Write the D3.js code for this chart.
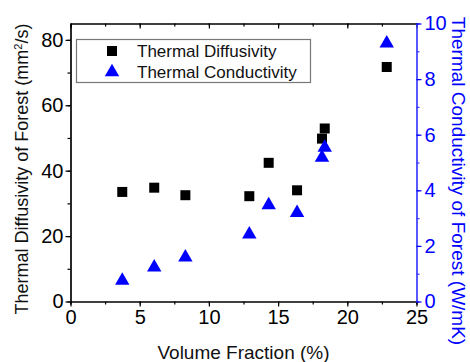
<!DOCTYPE html>
<html>
<head>
<meta charset="utf-8">
<script src="https://cdn.jsdelivr.net/npm/d3@7"></script>
<style>
  body { margin: 0; background: #fff; }
  text { font-family: Arial, "Liberation Sans", sans-serif; }
</style>
</head>
<body>
<div id="chart"></div>
<script>
// ---------- data
const volumeFraction = [3.74, 6.05, 8.3, 12.92, 14.32, 16.37, 18.17, 18.37, 22.85]
const diffusivity = [33.5, 34.8, 32.5, 32.2, 42.4, 34.0, 49.8, 52.9, 71.7]
const conductivity = [0.75, 1.23, 1.59, 2.42, 3.47, 3.19, 5.18, 5.54, 9.29]
const xTicks = [0, 5, 10, 15, 20, 25]
const yLeftTicks = [0, 20, 40, 60, 80]
const yRightTicks = [0, 2, 4, 6, 8, 10]
const legendLabels = ["Thermal Diffusivity", "Thermal Conductivity"]

const blue = "#0000ff"
const axisBlue = "#3a3aff"

// ---------- dimensions
const dims = {
    width: 470,
    height: 362,
    margin: { top: 23.5, right: 53.5, bottom: 60.5, left: 70.5 }
}
dims.boundedWidth = dims.width - dims.margin.left - dims.margin.right
dims.boundedHeight = dims.height - dims.margin.top - dims.margin.bottom

const svg = d3.select("#chart").append("svg")
    .attr("width", dims.width)
    .attr("height", dims.height)

const bounds = svg.append("g")
    .attr("transform", `translate(${dims.margin.left},${dims.margin.top})`)

// ---------- scales
const xScale = d3.scaleLinear().domain([0, 25]).range([0, dims.boundedWidth])
const yLeft = d3.scaleLinear().domain([0, 85]).range([dims.boundedHeight, 0])
const yRight = d3.scaleLinear().domain([0, 10]).range([dims.boundedHeight, 0])

// ---------- axes
const xMinor = d3.range(0, 25.01, 2.5)
const yLeftMinor = d3.range(0, 85, 10)
const yRightMinor = d3.range(0, 10.01, 1)

function styleAxis(g, color, fontSize) {
    g.select(".domain").attr("stroke", color).attr("stroke-width", 1.2)
    g.selectAll(".tick line").attr("stroke", color).attr("stroke-width", 1.2)
    g.selectAll(".tick text")
        .attr("fill", color)
        .style("font-size", fontSize + "px")
}

// minor ticks (drawn first, no labels)
bounds.append("g")
    .attr("transform", `translate(0,${dims.boundedHeight})`)
    .call(d3.axisBottom(xScale).tickValues(xMinor).tickSize(3).tickFormat(""))
    .call(g => styleAxis(g, "#000", 20))
bounds.append("g")
    .call(d3.axisBottom(xScale).tickValues(xMinor).tickSize(3).tickFormat(""))
    .call(g => styleAxis(g, "#000", 20))
bounds.append("g")
    .call(d3.axisLeft(yLeft).tickValues(yLeftMinor).tickSize(3).tickFormat("").tickSizeOuter(0))
    .call(g => styleAxis(g, "#000", 20))

// bottom axis
const xAxis = bounds.append("g")
    .attr("transform", `translate(0,${dims.boundedHeight})`)
    .call(d3.axisBottom(xScale).tickValues(xTicks).tickSize(5).tickSizeOuter(0).tickPadding(3))
    .call(g => styleAxis(g, "#000", 20))

// top axis (ticks pointing inward)
bounds.append("g")
    .call(d3.axisBottom(xScale).tickValues(xTicks).tickSize(5).tickSizeOuter(0).tickFormat(""))
    .call(g => styleAxis(g, "#000", 20))

// left axis
bounds.append("g")
    .call(d3.axisLeft(yLeft).tickValues(yLeftTicks).tickSize(5).tickSizeOuter(0).tickPadding(2))
    .call(g => styleAxis(g, "#000", 20))

// right axis in blue
const rightAxis = bounds.append("g")
    .attr("transform", `translate(${dims.boundedWidth},0)`)
rightAxis.append("g")
    .call(d3.axisRight(yRight).tickValues(yRightMinor).tickSize(3).tickFormat("").tickSizeOuter(0))
    .call(g => styleAxis(g, axisBlue, 20))
rightAxis.append("g")
    .call(d3.axisRight(yRight).tickValues(yRightTicks).tickSize(5).tickSizeOuter(0).tickPadding(3))
    .call(g => styleAxis(g, blue, 20))
rightAxis.selectAll(".domain").attr("stroke", axisBlue)

// ---------- axis titles
svg.append("text")
    .attr("x", dims.margin.left + dims.boundedWidth / 2)
    .attr("y", 359)
    .attr("text-anchor", "middle")
    .style("font-size", "19px")
    .attr("fill", "#111")
    .text("Volume Fraction (%)")

const leftTitle = svg.append("text")
    .attr("transform", `translate(28,169) rotate(-90)`)
    .attr("text-anchor", "middle")
    .style("font-size", "18px")
    .attr("fill", "#111")
leftTitle.append("tspan").text("Thermal Diffusivity of Forest (mm")
leftTitle.append("tspan").attr("baseline-shift", "super").style("font-size", "11px").text("2")
leftTitle.append("tspan").text("/s)")

svg.append("text")
    .attr("transform", `translate(452,181) rotate(90)`)
    .attr("text-anchor", "middle")
    .style("font-size", "19px")
    .attr("fill", blue)
    .text("Thermal Conductivity of Forest (W/mK)")

// ---------- data points
const points = volumeFraction.map((v, i) => ({ x: v, d: diffusivity[i], c: conductivity[i] }))

const squareSym = d3.symbol().type(d3.symbolSquare).size(100)
const triSym = d3.symbol().type(d3.symbolTriangle).size(90)

bounds.append("g").selectAll("path")
    .data(points)
    .join("path")
    .attr("d", squareSym)
    .attr("transform", d => `translate(${xScale(d.x)},${yLeft(d.d)})`)
    .attr("fill", "#000")

bounds.append("g").selectAll("path")
    .data(points)
    .join("path")
    .attr("d", triSym)
    .attr("transform", d => `translate(${xScale(d.x)},${yRight(d.c)})`)
    .attr("fill", blue)

// ---------- legend
const legend = svg.append("g")
legend.append("rect")
    .attr("x", 76.5).attr("y", 39.5)
    .attr("width", 234).attr("height", 43)
    .attr("fill", "#fff")
    .attr("stroke", "#777")
    .attr("stroke-width", 1.2)

const legendRows = legend.selectAll("g.row")
    .data(legendLabels)
    .join("g")
    .attr("class", "row")
    .attr("transform", (d, i) => `translate(112,${51 + i * 21})`)

legendRows.append("path")
    .attr("d", (d, i) => i === 0 ? squareSym() : triSym())
    .attr("fill", (d, i) => i === 0 ? "#000" : blue)

legendRows.append("text")
    .attr("x", 25)
    .attr("y", 6)
    .style("font-size", "17px")
    .attr("fill", "#111")
    .text(d => d)
</script>
</body>
</html>
